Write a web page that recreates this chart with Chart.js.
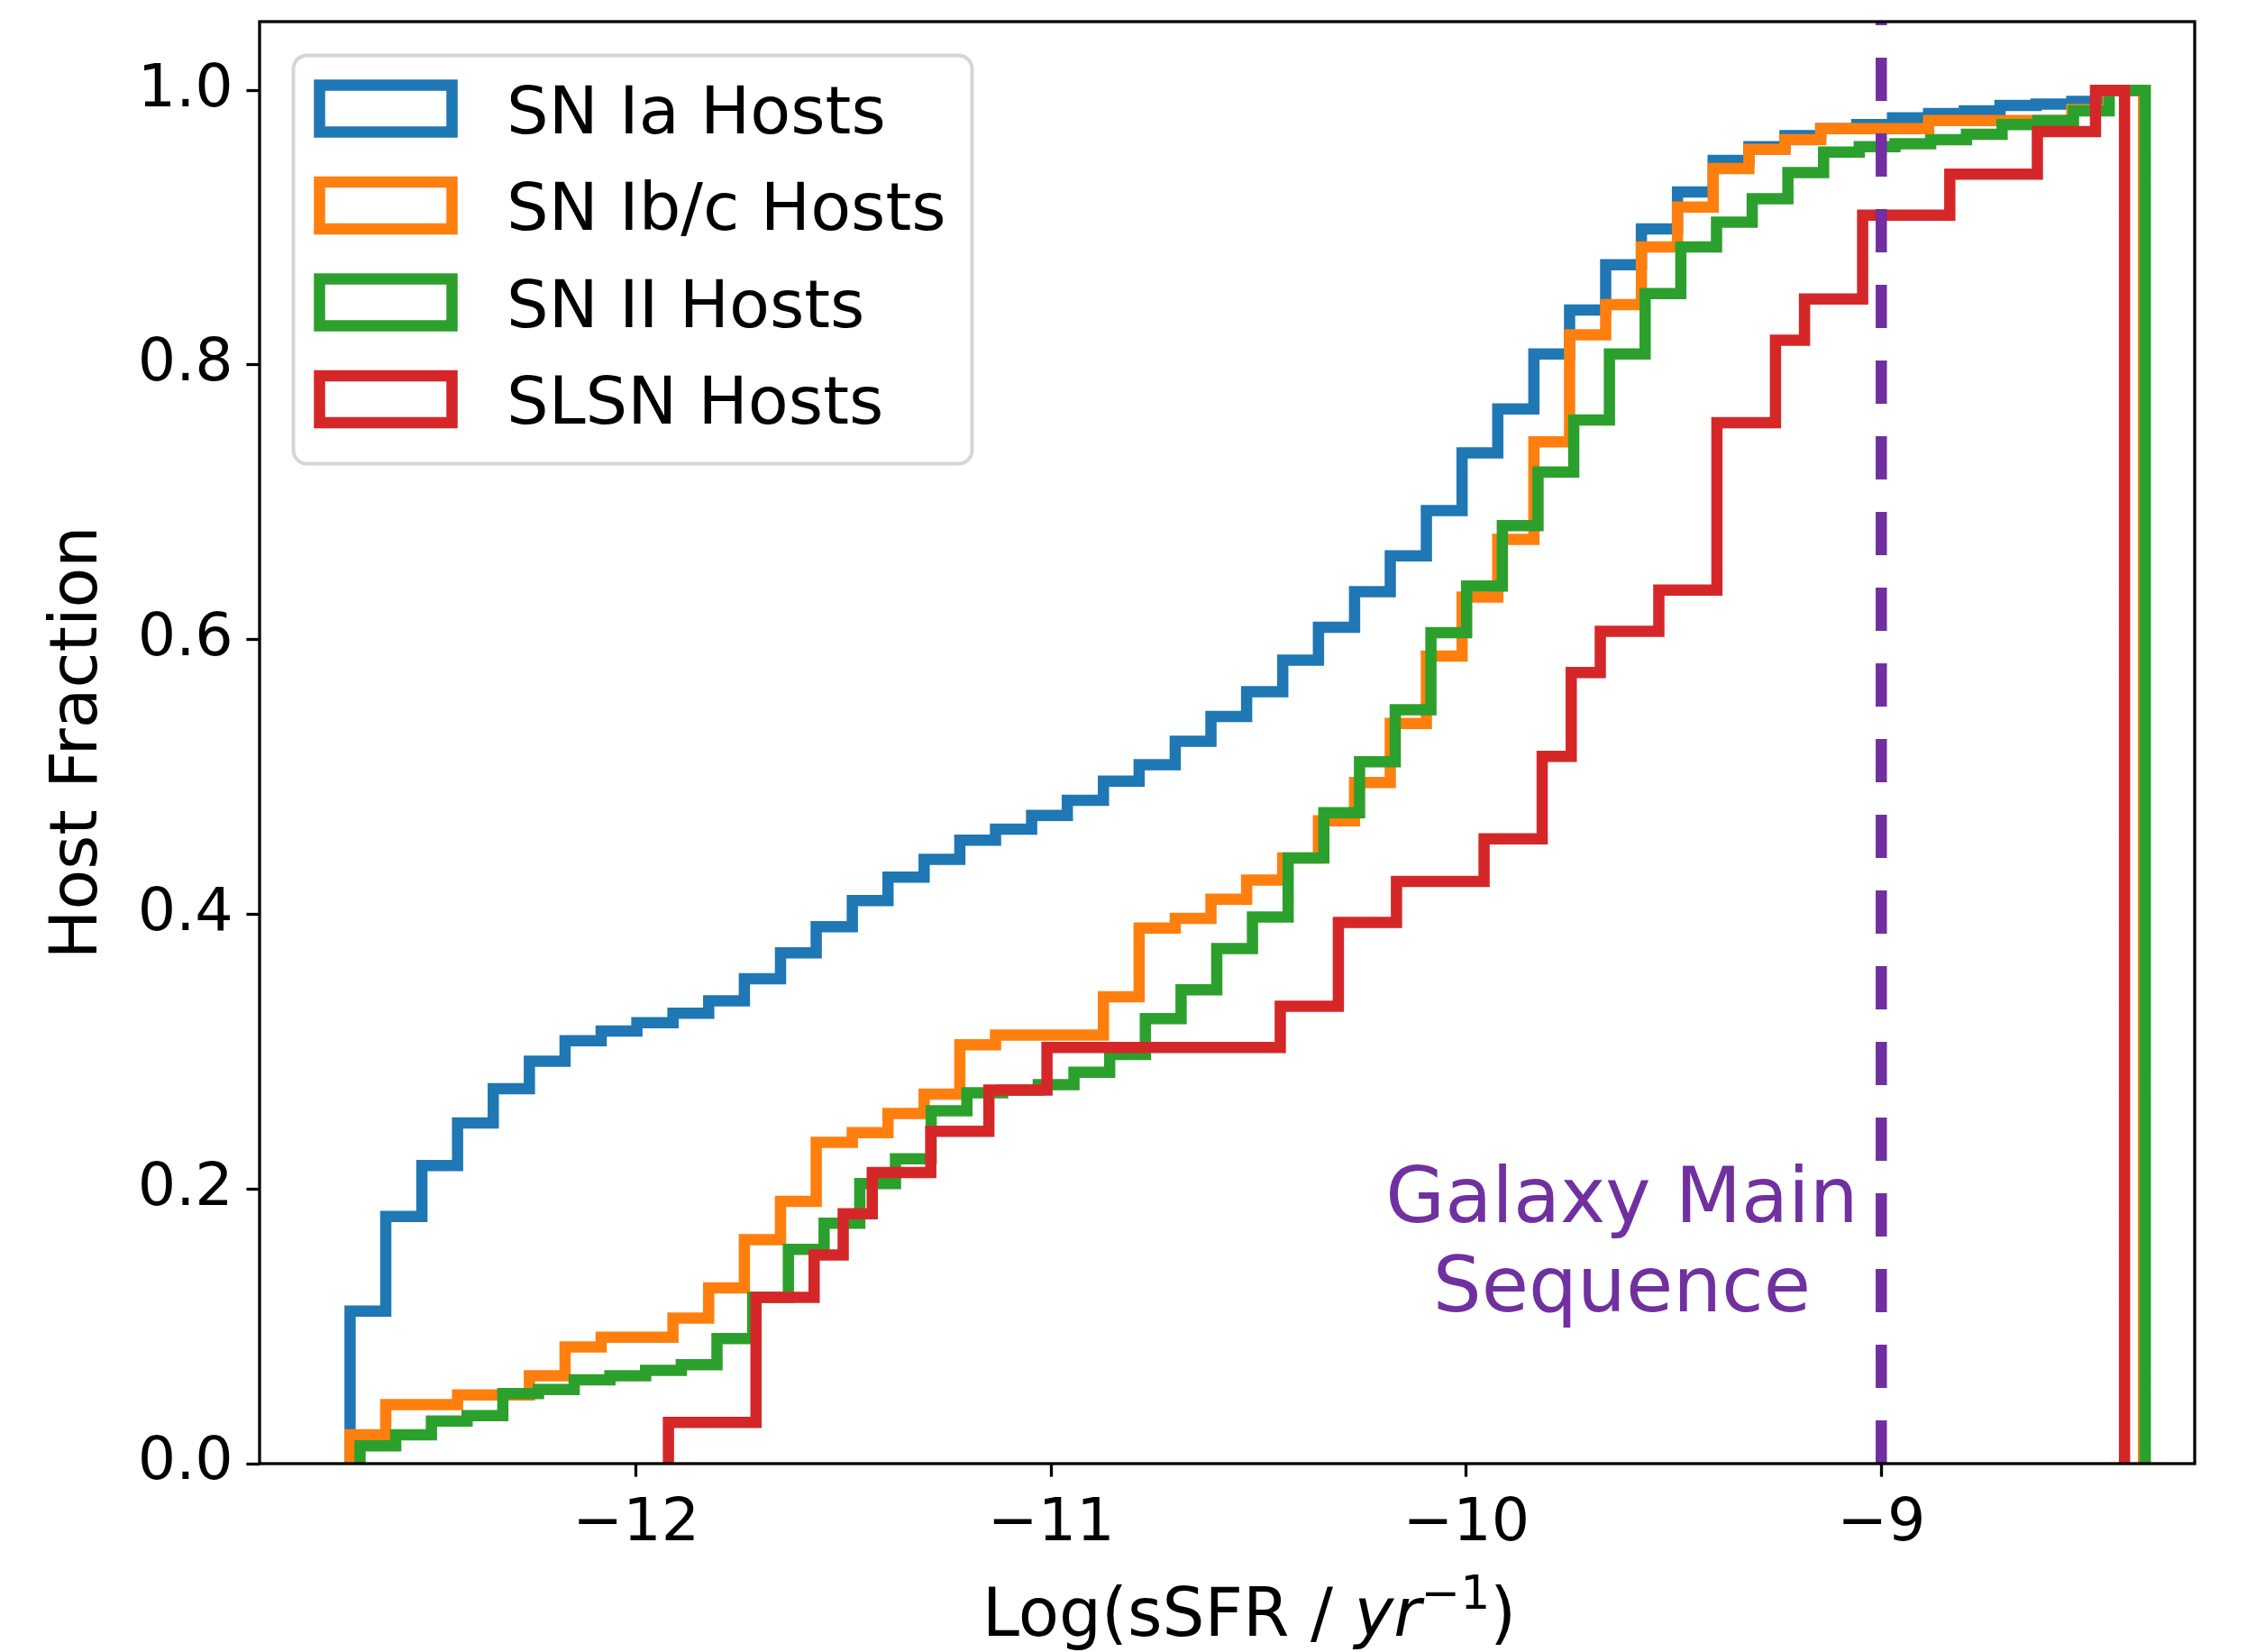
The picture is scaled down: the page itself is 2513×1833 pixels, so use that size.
<!DOCTYPE html>
<html>
<head>
<meta charset="utf-8">
<script src="https://cdn.jsdelivr.net/npm/chart.js@4.4.1/dist/chart.umd.min.js"></script>
<style>
    html, body { margin: 0; padding: 0; background: #ffffff; }
    #chart { display: block; width: 2513px; height: 1833px; }
</style>
</head>
<body>
<canvas id="chart" width="2513" height="1833"></canvas>
<script>
const FONT = "'DejaVu Sans', sans-serif";
const PURPLE = '#7030a0';

const xTicks = [-12, -11, -10, -9];
const yTicks = [0, 0.2, 0.4, 0.6, 0.8, 1.0];

const seriesNames = ['SN Ia Hosts', 'SN Ib/c Hosts', 'SN II Hosts', 'SLSN Hosts'];
const seriesColors = ['#1f77b4', '#ff7f0e', '#2ca02c', '#d62728'];

// cumulative histograms: bin edges and the level of each bin
const iaEdges = [
    -12.689, -12.603, -12.516, -12.430, -12.344, -12.257, -12.171, -12.084, -11.998, -11.911,
    -11.825, -11.739, -11.652, -11.566, -11.479, -11.393, -11.306, -11.220, -11.134, -11.047,
    -10.961, -10.874, -10.788, -10.701, -10.615, -10.529, -10.442, -10.356, -10.269, -10.183,
    -10.096, -10.010, -9.924, -9.837, -9.751, -9.664, -9.578, -9.491, -9.405, -9.319,
    -9.232, -9.146, -9.059, -8.973, -8.886, -8.800, -8.714, -8.627, -8.541, -8.454, -8.368
];
const iaLevels = [
    0.111, 0.180, 0.217, 0.248, 0.273, 0.293, 0.308, 0.315, 0.321, 0.328,
    0.337, 0.353, 0.372, 0.391, 0.410, 0.427, 0.440, 0.454, 0.462, 0.472,
    0.483, 0.497, 0.509, 0.526, 0.544, 0.562, 0.585, 0.609, 0.635, 0.661,
    0.694, 0.736, 0.768, 0.808, 0.840, 0.873, 0.899, 0.926, 0.949, 0.959,
    0.967, 0.972, 0.975, 0.980, 0.983, 0.985, 0.989, 0.990, 0.992, 1.000
];

// Ib/c uses the same bins as Ia
const ibcEdges = iaEdges;
const ibcLevels = [
    0.021, 0.043, 0.043, 0.050, 0.050, 0.064, 0.085, 0.092, 0.092, 0.106,
    0.128, 0.163, 0.191, 0.234, 0.241, 0.255, 0.269, 0.305, 0.312, 0.312,
    0.312, 0.340, 0.390, 0.397, 0.411, 0.425, 0.441, 0.468, 0.496, 0.539,
    0.588, 0.631, 0.673, 0.744, 0.822, 0.844, 0.886, 0.915, 0.943, 0.957,
    0.964, 0.972, 0.972, 0.972, 0.978, 0.978, 0.978, 0.978, 0.986, 1.000
];

const iiEdges = [
    -12.665, -12.579, -12.493, -12.407, -12.321, -12.235, -12.149, -12.063, -11.977, -11.891,
    -11.805, -11.719, -11.633, -11.547, -11.461, -11.375, -11.289, -11.203, -11.117, -11.031,
    -10.945, -10.859, -10.773, -10.687, -10.601, -10.515, -10.429, -10.343, -10.257, -10.171,
    -10.085, -9.999, -9.913, -9.827, -9.741, -9.655, -9.569, -9.483, -9.397, -9.311,
    -9.225, -9.139, -9.053, -8.967, -8.881, -8.795, -8.709, -8.623, -8.537, -8.451, -8.364
];
const iiLevels = [
    0.013, 0.021, 0.031, 0.035, 0.051, 0.054, 0.061, 0.064, 0.068, 0.072,
    0.091, 0.121, 0.156, 0.175, 0.204, 0.222, 0.257, 0.270, 0.272, 0.276,
    0.285, 0.298, 0.324, 0.345, 0.375, 0.398, 0.441, 0.474, 0.511, 0.549,
    0.605, 0.639, 0.683, 0.722, 0.760, 0.808, 0.852, 0.886, 0.904, 0.921,
    0.940, 0.955, 0.959, 0.961, 0.964, 0.968, 0.975, 0.978, 0.985, 1.000
];

// SLSN: only the edges where the level changes
const slsnEdges = [
    -11.922, -11.711, -11.571, -11.501, -11.431, -11.290, -11.150, -11.010, -10.448, -10.308,
    -10.168, -9.957, -9.817, -9.747, -9.677, -9.536, -9.396, -9.255, -9.185, -9.045,
    -8.835, -8.624, -8.484, -8.414
];
const slsnLevels = [
    0.030, 0.121, 0.152, 0.182, 0.212, 0.242, 0.272, 0.303, 0.333, 0.394,
    0.424, 0.455, 0.515, 0.576, 0.606, 0.636, 0.758, 0.818, 0.848, 0.909,
    0.939, 0.970, 1.000
];

const mainSequenceX = -9;
const annotLines = ['Galaxy Main', 'Sequence'];
const annotX = -9.625;
const annotY = [0.176, 0.111];

// step outline like histtype='step': up from 0 at the first edge, down to 0 at the last
function stepPoints(edges, levels) {
    const pts = [{ x: edges[0], y: 0 }];
    levels.forEach((v, i) => pts.push({ x: edges[i], y: v }));
    pts.push({ x: edges[edges.length - 1], y: 0 });
    return pts;
}

const allEdges = [iaEdges, ibcEdges, iiEdges, slsnEdges];
const allLevels = [iaLevels, ibcLevels, iiLevels, slsnLevels];

const datasets = seriesNames.map((name, i) => ({
    label: name,
    data: stepPoints(allEdges[i], allLevels[i]),
    borderColor: seriesColors[i],
    borderWidth: 12.5,
    stepped: 'before',
    fill: false,
    pointRadius: 0,
    borderJoinStyle: 'miter',
    borderCapStyle: 'butt',
    order: 4 - i
}));

datasets.push({
    label: 'main sequence',
    data: [{ x: mainSequenceX, y: 0 }, { x: mainSequenceX, y: 1.05 }],
    borderColor: PURPLE,
    borderWidth: 12.5,
    borderDash: [48, 36],
    borderCapStyle: 'butt',
    pointRadius: 0,
    fill: false,
    order: 0
});

const framePlugin = {
    id: 'frame',
    afterDatasetsDraw(chart) {
        const { ctx, chartArea: a } = chart;
        ctx.save();
        ctx.strokeStyle = '#000';
        ctx.lineWidth = 3.3;
        ctx.strokeRect(a.left, a.top, a.right - a.left, a.bottom - a.top);
        ctx.restore();
    }
};

const textPlugin = {
    id: 'texts',
    afterDraw(chart) {
        const { ctx, chartArea: a, scales } = chart;
        ctx.save();

        // annotation next to the dashed line
        ctx.fillStyle = PURPLE;
        ctx.font = '85px ' + FONT;
        ctx.textAlign = 'center';
        ctx.textBaseline = 'alphabetic';
        annotLines.forEach((t, i) => {
            ctx.fillText(t, scales.x.getPixelForValue(annotX), scales.y.getPixelForValue(annotY[i]));
        });

        // y axis label
        ctx.fillStyle = '#000';
        ctx.font = '73px ' + FONT;
        ctx.save();
        ctx.translate(107, (a.top + a.bottom) / 2);
        ctx.rotate(-Math.PI / 2);
        ctx.textAlign = 'center';
        ctx.fillText('Host Fraction', 0, 0);
        ctx.restore();

        // x axis label with italic yr and superscript
        const base = 1815;
        const parts = [
            { t: 'Log(sSFR / ', f: '74px ' + FONT, dy: 0 },
            { t: 'yr', f: 'italic 74px ' + FONT, dy: 0 },
            { t: '\u22121', f: '52px ' + FONT, dy: -30 },
            { t: ')', f: '74px ' + FONT, dy: 0 }
        ];
        let total = 0;
        parts.forEach(p => { ctx.font = p.f; p.w = ctx.measureText(p.t).width; total += p.w; });
        let x = 1386 - total / 2;
        ctx.textAlign = 'left';
        parts.forEach(p => {
            ctx.font = p.f;
            ctx.fillText(p.t, x, base + p.dy);
            x += p.w;
        });

        // legend
        const lx = a.left + 37.5, ly = a.top + 37.5, lw = 753, lh = 453;
        ctx.fillStyle = 'rgba(255,255,255,0.8)';
        ctx.strokeStyle = '#d5d5d5';
        ctx.lineWidth = 4;
        ctx.beginPath();
        ctx.roundRect(lx, ly, lw, lh, 15);
        ctx.fill();
        ctx.stroke();
        ctx.font = '73.5px ' + FONT;
        ctx.textAlign = 'left';
        seriesNames.forEach((name, i) => {
            const cy = ly + 59 + i * 107.5;
            ctx.strokeStyle = seriesColors[i];
            ctx.lineWidth = 12.5;
            ctx.lineJoin = 'miter';
            ctx.strokeRect(lx + 29, cy - 26, 147, 52);
            ctx.fillStyle = '#000';
            ctx.fillText(name, 562, cy + 27);
        });
        ctx.restore();
    }
};

const tickFont = { family: FONT, size: 66.7 };

new Chart(document.getElementById('chart').getContext('2d'), {
    type: 'line',
    data: { datasets: datasets },
    options: {
        responsive: false,
        animation: false,
        devicePixelRatio: 1,
        layout: { padding: { top: 24, right: 78, left: 0, bottom: 0 } },
        plugins: {
            legend: { display: false },
            tooltip: { enabled: false }
        },
        scales: {
            x: {
                type: 'linear',
                min: -12.907,
                max: -8.245,
                afterBuildTicks: (s) => { s.ticks = xTicks.map(v => ({ value: v })); },
                afterFit: (s) => { s.height = 209; s.paddingLeft = 0; s.paddingRight = 0; },
                border: { display: false },
                grid: { drawOnChartArea: false, drawTicks: true, tickLength: 14.6, tickWidth: 3.3, tickColor: '#000' },
                ticks: {
                    color: '#000',
                    font: tickFont,
                    padding: 13,
                    maxRotation: 0,
                    autoSkip: false,
                    callback: (v) => (v < 0 ? '\u2212' + Math.abs(v) : String(v))
                }
            },
            y: {
                type: 'linear',
                min: 0,
                max: 1.05,
                afterBuildTicks: (s) => { s.ticks = yTicks.map(v => ({ value: v })); },
                afterFit: (s) => { s.width = 288; s.paddingTop = 0; s.paddingBottom = 0; },
                border: { display: false },
                grid: { drawOnChartArea: false, drawTicks: true, tickLength: 14.6, tickWidth: 3.3, tickColor: '#000' },
                ticks: {
                    color: '#000',
                    font: tickFont,
                    padding: 14.6,
                    autoSkip: false,
                    callback: (v) => v.toFixed(1)
                }
            }
        }
    },
    plugins: [framePlugin, textPlugin]
});
</script>
</body>
</html>
